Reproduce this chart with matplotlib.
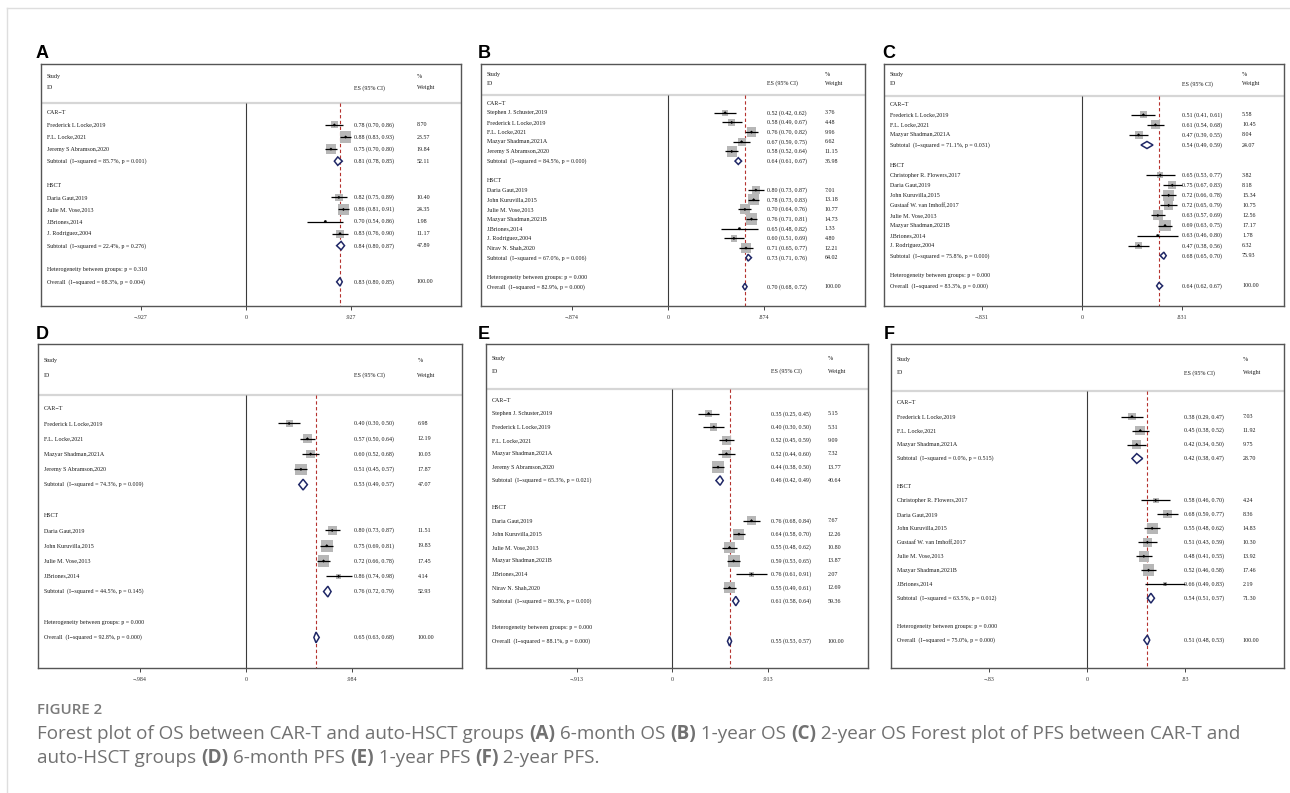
import matplotlib
matplotlib.use("Agg")
import matplotlib.pyplot as plt
from matplotlib.patches import Polygon
from matplotlib.lines import Line2D

# ======================= DATA =======================
# ---- Panel A: 6-month OS ----
A_names = ["Frederick L Locke,2019", "F.L. Locke,2021", "Jeremy S Abramson,2020",
           "Daria Gaut,2019", "Julie M. Vose,2013", "J.Briones,2014", "J. Rodriguez,2004"]
A_groups = ["CAR-T", "CAR-T", "CAR-T", "HSCT", "HSCT", "HSCT", "HSCT"]
A_es = [0.78, 0.88, 0.75, 0.82, 0.86, 0.70, 0.83]
A_lo = [0.70, 0.83, 0.70, 0.75, 0.81, 0.54, 0.76]
A_hi = [0.86, 0.93, 0.80, 0.89, 0.91, 0.86, 0.90]
A_wt = [8.70, 23.57, 19.84, 10.40, 24.35, 1.98, 11.17]
A_sub_es = [0.81, 0.84]
A_sub_lo = [0.78, 0.80]
A_sub_hi = [0.85, 0.87]
A_sub_wt = [52.11, 47.89]
A_sub_i2 = ["85.7%", "22.4%"]
A_sub_p = ["0.001", "0.276"]
A_het_p = "0.310"
A_overall = [0.83, 0.80, 0.85]
A_overall_i2 = "68.3%"
A_overall_p = "0.004"
A_tick = 0.927
A_tick_label = ".927"

# ---- Panel B: 1-year OS ----
B_names = ["Stephen J. Schuster,2019", "Frederick L Locke,2019", "F.L. Locke,2021",
           "Mazyar Shadman,2021A", "Jeremy S Abramson,2020",
           "Daria Gaut,2019", "John Kuruvilla,2015", "Julie M. Vose,2013",
           "Mazyar Shadman,2021B", "J.Briones,2014", "J. Rodriguez,2004", "Nirav N. Shah,2020"]
B_groups = ["CAR-T", "CAR-T", "CAR-T", "CAR-T", "CAR-T",
            "HSCT", "HSCT", "HSCT", "HSCT", "HSCT", "HSCT", "HSCT"]
B_es = [0.52, 0.58, 0.76, 0.67, 0.58, 0.80, 0.78, 0.70, 0.76, 0.65, 0.60, 0.71]
B_lo = [0.42, 0.49, 0.70, 0.59, 0.52, 0.73, 0.73, 0.64, 0.71, 0.48, 0.51, 0.65]
B_hi = [0.62, 0.67, 0.82, 0.75, 0.64, 0.87, 0.83, 0.76, 0.81, 0.82, 0.69, 0.77]
B_wt = [3.76, 4.48, 9.96, 6.62, 11.15, 7.01, 13.18, 10.77, 14.73, 1.33, 4.80, 12.21]
B_sub_es = [0.64, 0.73]
B_sub_lo = [0.61, 0.71]
B_sub_hi = [0.67, 0.76]
B_sub_wt = [35.98, 64.02]
B_sub_i2 = ["84.5%", "67.0%"]
B_sub_p = ["0.000", "0.006"]
B_het_p = "0.000"
B_overall = [0.70, 0.68, 0.72]
B_overall_i2 = "82.9%"
B_overall_p = "0.000"
B_tick = 0.874
B_tick_label = ".874"

# ---- Panel C: 2-year OS ----
C_names = ["Frederick L Locke,2019", "F.L. Locke,2021", "Mazyar Shadman,2021A",
           "Christopher R. Flowers,2017", "Daria Gaut,2019", "John Kuruvilla,2015",
           "Gustaaf W. van Imhoff,2017", "Julie M. Vose,2013", "Mazyar Shadman,2021B",
           "J.Briones,2014", "J. Rodriguez,2004"]
C_groups = ["CAR-T", "CAR-T", "CAR-T",
            "HSCT", "HSCT", "HSCT", "HSCT", "HSCT", "HSCT", "HSCT", "HSCT"]
C_es = [0.51, 0.61, 0.47, 0.65, 0.75, 0.72, 0.72, 0.63, 0.69, 0.63, 0.47]
C_lo = [0.41, 0.54, 0.39, 0.53, 0.67, 0.66, 0.65, 0.57, 0.63, 0.46, 0.38]
C_hi = [0.61, 0.68, 0.55, 0.77, 0.83, 0.78, 0.79, 0.69, 0.75, 0.80, 0.56]
C_wt = [5.58, 10.45, 8.04, 3.82, 8.18, 15.34, 10.75, 12.56, 17.17, 1.78, 6.32]
C_sub_es = [0.54, 0.68]
C_sub_lo = [0.49, 0.65]
C_sub_hi = [0.59, 0.70]
C_sub_wt = [24.07, 75.93]
C_sub_i2 = ["71.1%", "75.8%"]
C_sub_p = ["0.031", "0.000"]
C_het_p = "0.000"
C_overall = [0.64, 0.62, 0.67]
C_overall_i2 = "83.3%"
C_overall_p = "0.000"
C_tick = 0.831
C_tick_label = ".831"

# ---- Panel D: 6-month PFS ----
D_names = ["Frederick L Locke,2019", "F.L. Locke,2021", "Mazyar Shadman,2021A",
           "Jeremy S Abramson,2020",
           "Daria Gaut,2019", "John Kuruvilla,2015", "Julie M. Vose,2013", "J.Briones,2014"]
D_groups = ["CAR-T", "CAR-T", "CAR-T", "CAR-T", "HSCT", "HSCT", "HSCT", "HSCT"]
D_es = [0.40, 0.57, 0.60, 0.51, 0.80, 0.75, 0.72, 0.86]
D_lo = [0.30, 0.50, 0.52, 0.45, 0.73, 0.69, 0.66, 0.74]
D_hi = [0.50, 0.64, 0.68, 0.57, 0.87, 0.81, 0.78, 0.98]
D_wt = [6.98, 12.19, 10.03, 17.87, 11.51, 19.83, 17.45, 4.14]
D_sub_es = [0.53, 0.76]
D_sub_lo = [0.49, 0.72]
D_sub_hi = [0.57, 0.79]
D_sub_wt = [47.07, 52.93]
D_sub_i2 = ["74.3%", "44.5%"]
D_sub_p = ["0.009", "0.145"]
D_het_p = "0.000"
D_overall = [0.65, 0.63, 0.68]
D_overall_i2 = "92.8%"
D_overall_p = "0.000"
D_tick = 0.984
D_tick_label = ".984"

# ---- Panel E: 1-year PFS ----
E_names = ["Stephen J. Schuster,2019", "Frederick L Locke,2019", "F.L. Locke,2021",
           "Mazyar Shadman,2021A", "Jeremy S Abramson,2020",
           "Daria Gaut,2019", "John Kuruvilla,2015", "Julie M. Vose,2013",
           "Mazyar Shadman,2021B", "J.Briones,2014", "Nirav N. Shah,2020"]
E_groups = ["CAR-T", "CAR-T", "CAR-T", "CAR-T", "CAR-T",
            "HSCT", "HSCT", "HSCT", "HSCT", "HSCT", "HSCT"]
E_es = [0.35, 0.40, 0.52, 0.52, 0.44, 0.76, 0.64, 0.55, 0.59, 0.76, 0.55]
E_lo = [0.25, 0.30, 0.45, 0.44, 0.38, 0.68, 0.58, 0.48, 0.53, 0.61, 0.49]
E_hi = [0.45, 0.50, 0.59, 0.60, 0.50, 0.84, 0.70, 0.62, 0.65, 0.91, 0.61]
E_wt = [5.15, 5.31, 9.09, 7.32, 13.77, 7.67, 12.26, 10.80, 13.87, 2.07, 12.69]
E_sub_es = [0.46, 0.61]
E_sub_lo = [0.42, 0.58]
E_sub_hi = [0.49, 0.64]
E_sub_wt = [40.64, 59.36]
E_sub_i2 = ["65.3%", "80.3%"]
E_sub_p = ["0.021", "0.000"]
E_het_p = "0.000"
E_overall = [0.55, 0.53, 0.57]
E_overall_i2 = "88.1%"
E_overall_p = "0.000"
E_tick = 0.913
E_tick_label = ".913"

# ---- Panel F: 2-year PFS ----
F_names = ["Frederick L Locke,2019", "F.L. Locke,2021", "Mazyar Shadman,2021A",
           "Christopher R. Flowers,2017", "Daria Gaut,2019", "John Kuruvilla,2015",
           "Gustaaf W. van Imhoff,2017", "Julie M. Vose,2013", "Mazyar Shadman,2021B",
           "J.Briones,2014"]
F_groups = ["CAR-T", "CAR-T", "CAR-T",
            "HSCT", "HSCT", "HSCT", "HSCT", "HSCT", "HSCT", "HSCT"]
F_es = [0.38, 0.45, 0.42, 0.58, 0.68, 0.55, 0.51, 0.48, 0.52, 0.66]
F_lo = [0.29, 0.38, 0.34, 0.46, 0.59, 0.48, 0.43, 0.41, 0.46, 0.49]
F_hi = [0.47, 0.52, 0.50, 0.70, 0.77, 0.62, 0.59, 0.55, 0.58, 0.83]
F_wt = [7.03, 11.92, 9.75, 4.24, 8.36, 14.83, 10.30, 13.92, 17.46, 2.19]
F_sub_es = [0.42, 0.54]
F_sub_lo = [0.38, 0.51]
F_sub_hi = [0.47, 0.57]
F_sub_wt = [28.70, 71.30]
F_sub_i2 = ["0.0%", "63.5%"]
F_sub_p = ["0.515", "0.012"]
F_het_p = "0.000"
F_overall = [0.51, 0.48, 0.53]
F_overall_i2 = "75.0%"
F_overall_p = "0.000"
F_tick = 0.83
F_tick_label = ".83"

group_order = ["CAR-T", "HSCT"]

# ======================= STYLE / LAYOUT =======================
W, H = 1290, 793
SERIF = ["Liberation Serif", "DejaVu Serif"]
FS = 4.3
TXT = "#1a1a1a"
BOX_GRAY = "#b7b7b7"
DIAMOND = "#1f2766"
REFRED = "#b5322e"
MINUS = "\u2212"

# pixel boxes (left, top, right, bottom) and x-pixel of zero line
layout = {
    "A": dict(box=(41, 64, 461, 306), zero=246, head=4.05, lab=(36, 58)),
    "B": dict(box=(481, 64, 865, 306), zero=668, head=4.05, lab=(478, 58)),
    "C": dict(box=(884, 64, 1284, 306), zero=1082, head=4.05, lab=(882, 58)),
    "D": dict(box=(38, 344, 462, 668), zero=246, head=4.2, lab=(36, 339)),
    "E": dict(box=(486, 344, 868, 668), zero=672, head=4.2, lab=(478, 339)),
    "F": dict(box=(891, 344, 1284, 668), zero=1087, head=4.2, lab=(884, 339)),
}

fig = plt.figure(figsize=(W / 100, H / 100), dpi=100)
fig.patch.set_facecolor("white")

# faint page frame
fig.add_artist(Line2D([7 / W, 1], [1 - 8 / H, 1 - 8 / H], transform=fig.transFigure,
                      color="#dedede", lw=1.0))
fig.add_artist(Line2D([7 / W, 7 / W], [1 - 8 / H, 0], transform=fig.transFigure,
                      color="#dedede", lw=1.0))


def draw_panel(letter, names, groups, es, lo, hi, wt, sub_es, sub_lo, sub_hi, sub_wt,
               sub_i2, sub_p, het_p, overall, ov_i2, ov_p, tick, tick_label):
    L = layout[letter]
    l, t, r, b = L["box"]
    ax = fig.add_axes([l / W, 1 - b / H, (r - l) / W, (b - t) / H])
    ppu = 0.25 * (r - l) / tick          # pixels per data unit
    ax.set_xlim((l - L["zero"]) / ppu, (r - L["zero"]) / ppu)

    tr = ax.get_yaxis_transform()        # x in axes fraction, y in data
    x_lab = 6 / (r - l)
    x_es = 0.745
    x_wt = 0.895
    tkw = dict(fontsize=FS, family=SERIF, color=TXT, va="center", ha="left", transform=tr)

    def fmt(e, a, c):
        return f"{e:.2f} ({a:.2f}, {c:.2f})"

    def diamond(e, a, c, y, h=0.35):
        ax.add_patch(Polygon([(a, y), (e, y - h), (c, y), (e, y + h)], closed=True,
                             fill=True, facecolor="white", edgecolor=DIAMOND, lw=1.1, zorder=5))

    wmax = max(wt)
    y = 0
    for gi, g in enumerate(group_order):
        ax.text(x_lab, y, g.replace("-", MINUS), **tkw)
        y += 1
        for i, gg in enumerate(groups):
            if gg != g:
                continue
            ax.text(x_lab, y, names[i], **tkw)
            ax.text(x_es, y, fmt(es[i], lo[i], hi[i]), **tkw)
            ax.text(x_wt, y, f"{wt[i]:.2f}", **tkw)
            ax.scatter([es[i]], [y], s=72 * wt[i] / wmax, marker="s", color=BOX_GRAY,
                       edgecolors="none", zorder=2)
            ax.hlines(y, lo[i], hi[i], color="black", lw=0.9, zorder=3)
            ax.scatter([es[i]], [y], s=2.5, marker="D", color="black", zorder=4,
                       edgecolors="none")
            y += 1
        ax.text(x_lab, y, f"Subtotal  (I{MINUS}squared = {sub_i2[gi]}, p = {sub_p[gi]})", **tkw)
        ax.text(x_es, y, fmt(sub_es[gi], sub_lo[gi], sub_hi[gi]), **tkw)
        ax.text(x_wt, y, f"{sub_wt[gi]:.2f}", **tkw)
        diamond(sub_es[gi], sub_lo[gi], sub_hi[gi], y)
        y += 2
    ax.text(x_lab, y, f"Heterogeneity between groups: p = {het_p}", **tkw)
    y += 1
    ax.text(x_lab, y, f"Overall  (I{MINUS}squared = {ov_i2}, p = {ov_p})", **tkw)
    ax.text(x_es, y, fmt(*overall), **tkw)
    ax.text(x_wt, y, "100.00", **tkw)
    diamond(overall[0], overall[1], overall[2], y)

    ybot = y + 2
    head = L["head"]
    ax.set_ylim(ybot, -head)
    y_line = -0.205 * head
    y_id = -0.51 * head
    y_study = -0.74 * head

    # header
    ax.text(x_lab, y_study, "Study", **tkw)
    ax.text(x_lab, y_id, "ID", **tkw)
    ax.text(x_es, y_id, "ES (95% CI)", **tkw)
    ax.text(x_wt, y_study, "%", **tkw)
    ax.text(x_wt, y_id, "Weight", **tkw)
    ax.axhline(y_line, color="#d6d6d6", lw=1.6, zorder=1)

    # zero line and overall reference line
    ax.vlines(0, y_line, ybot, color="#3a3a3a", lw=0.8, zorder=1)
    ax.vlines(overall[0], y_line, ybot, colors=REFRED, lw=0.8,
              linestyles=(0, (3.0, 2.2)), zorder=1)

    # axes frame / ticks
    for s in ax.spines.values():
        s.set_color("#555555")
        s.set_linewidth(1.0)
    ax.set_yticks([])
    ax.set_xticks([-tick, 0, tick])
    ax.set_xticklabels([MINUS + tick_label, "0", tick_label], family=SERIF, fontsize=FS,
                       color="#333333")
    ax.tick_params(axis="x", direction="out", length=3, width=0.7, color="#444444", pad=3.5)

    lx, ly = L["lab"]
    fig.text(lx / W, 1 - ly / H, letter, fontsize=13, fontweight="bold",
             family=["Liberation Sans", "DejaVu Sans"], color="black",
             ha="left", va="baseline")


draw_panel("A", A_names, A_groups, A_es, A_lo, A_hi, A_wt, A_sub_es, A_sub_lo, A_sub_hi,
           A_sub_wt, A_sub_i2, A_sub_p, A_het_p, A_overall, A_overall_i2, A_overall_p,
           A_tick, A_tick_label)
draw_panel("B", B_names, B_groups, B_es, B_lo, B_hi, B_wt, B_sub_es, B_sub_lo, B_sub_hi,
           B_sub_wt, B_sub_i2, B_sub_p, B_het_p, B_overall, B_overall_i2, B_overall_p,
           B_tick, B_tick_label)
draw_panel("C", C_names, C_groups, C_es, C_lo, C_hi, C_wt, C_sub_es, C_sub_lo, C_sub_hi,
           C_sub_wt, C_sub_i2, C_sub_p, C_het_p, C_overall, C_overall_i2, C_overall_p,
           C_tick, C_tick_label)
draw_panel("D", D_names, D_groups, D_es, D_lo, D_hi, D_wt, D_sub_es, D_sub_lo, D_sub_hi,
           D_sub_wt, D_sub_i2, D_sub_p, D_het_p, D_overall, D_overall_i2, D_overall_p,
           D_tick, D_tick_label)
draw_panel("E", E_names, E_groups, E_es, E_lo, E_hi, E_wt, E_sub_es, E_sub_lo, E_sub_hi,
           E_sub_wt, E_sub_i2, E_sub_p, E_het_p, E_overall, E_overall_i2, E_overall_p,
           E_tick, E_tick_label)
draw_panel("F", F_names, F_groups, F_es, F_lo, F_hi, F_wt, F_sub_es, F_sub_lo, F_sub_hi,
           F_sub_wt, F_sub_i2, F_sub_p, F_het_p, F_overall, F_overall_i2, F_overall_p,
           F_tick, F_tick_label)

# ======================= CAPTION =======================
CAP_FAMILY = ["Open Sans", "DejaVu Sans"]
CAP_COLOR = "#717171"
fig.text(37 / W, 1 - 710 / H, "FIGURE 2", fontsize=10.8, fontweight="semibold",
         family=CAP_FAMILY, color="#7a7a7a", ha="left", va="center")

cap_line1 = [("Forest plot of OS between CAR-T and auto-HSCT groups ", False), ("(A)", True),
             (" 6-month OS ", False), ("(B)", True), (" 1-year OS ", False), ("(C)", True),
             (" 2-year OS Forest plot of PFS between CAR-T and", False)]
cap_line2 = [("auto-HSCT groups ", False), ("(D)", True), (" 6-month PFS ", False),
             ("(E)", True), (" 1-year PFS ", False), ("(F)", True), (" 2-year PFS.", False)]

renderer = fig.canvas.get_renderer()


def rich_line(x_px, y_px, parts, size):
    x = x_px
    for txt, bold in parts:
        tt = fig.text(x / W, 1 - y_px / H, txt, fontsize=size,
                      fontweight="bold" if bold else "normal", family=CAP_FAMILY,
                      color=CAP_COLOR, ha="left", va="center")
        x += tt.get_window_extent(renderer).width
    return x


rich_line(37, 734, cap_line1, 13.6)
rich_line(37, 758, cap_line2, 13.6)

fig.savefig("out.png", dpi=100, facecolor="white")
